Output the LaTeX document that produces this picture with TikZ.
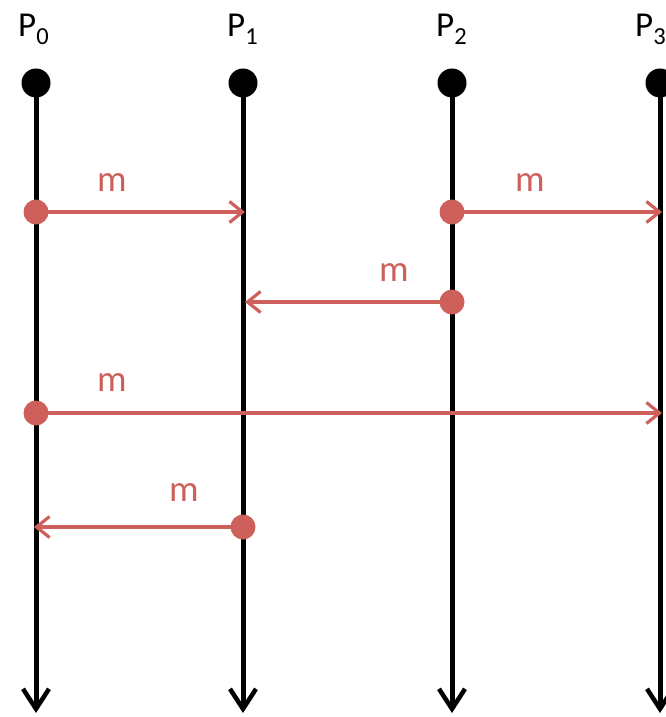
\documentclass[tikz,border=0pt]{standalone}
\usepackage{fontspec}
\setmainfont{Carlito}
\usetikzlibrary{arrows.meta}
\definecolor{msgred}{RGB}{205,96,90}
\begin{document}
\begin{tikzpicture}[x=1pt,y=-1pt,
  procdot/.style={circle,fill=black,inner sep=0pt,minimum size=29pt},
  msgdot/.style={circle,fill=msgred,inner sep=0pt,minimum size=25pt},
  timeline/.style={line width=5pt,-{Straight Barb[length=20pt,width=26pt,line width=4.5pt]}},
  msg/.style={draw=msgred,line width=3.2pt,-{Straight Barb[length=13pt,width=21pt,line width=3.2pt]}},
  plabel/.style={font=\fontsize{35}{40}\selectfont,inner sep=0pt,anchor=base west},
  mlabel/.style={text=msgred,font=\fontsize{37}{42}\selectfont,inner sep=0pt}]
  \useasboundingbox (0,0) rectangle (666,717);
  \clip (0,0) rectangle (666,717);

  % process names
  \node[plabel] (n0) at (18,37) {P\textsubscript{0}};
  \node[plabel] (n1) at (227,37) {P\textsubscript{1}};
  \node[plabel] (n2) at (436,37) {P\textsubscript{2}};
  \node[plabel] (n3) at (635,37) {P\textsubscript{3}};

  % process start dots and time lines
  \foreach \i/\x in {0/36,1/243,2/452,3/660}{
    \node[procdot] (p\i) at (\x,83) {};
    \coordinate (e\i) at (\x,713);
    \draw[timeline] (p\i.center) -- (e\i);
  }

  % send events
  \node[msgdot] (s1) at (36,212) {};
  \node[msgdot] (s2) at (452,212) {};
  \node[msgdot] (s3) at (452,302) {};
  \node[msgdot] (s4) at (36,413) {};
  \node[msgdot] (s5) at (243,527) {};

  % receive points
  \coordinate (r1) at (245,212);
  \coordinate (r2) at (662,212);
  \coordinate (r3) at (245,302);
  \coordinate (r4) at (662,413);
  \coordinate (r5) at (34,527);

  % messages
  \draw[msg] (s1.center) -- (r1);
  \draw[msg] (s2.center) -- (r2);
  \draw[msg] (s3.center) -- (r3);
  \draw[msg] (s4.center) -- (r4);
  \draw[msg] (s5.center) -- (r5);

  % message labels
  \node[mlabel] (m1) at (112,183) {m};
  \node[mlabel] (m2) at (530,183) {m};
  \node[mlabel] (m3) at (394,273) {m};
  \node[mlabel] (m4) at (112,383) {m};
  \node[mlabel] (m5) at (184,493) {m};
\end{tikzpicture}
\end{document}
